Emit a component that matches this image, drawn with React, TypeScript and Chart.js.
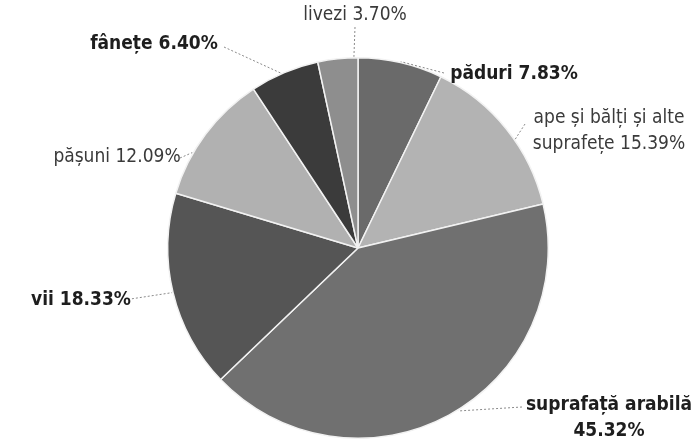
import React, { useEffect, useRef } from "react";
import { Chart, registerables } from "chart.js";

Chart.register(...registerables);

const categories = [
  "păduri",
  "ape și bălți și alte suprafețe",
  "suprafață arabilă",
  "vii",
  "pășuni",
  "fânețe",
  "livezi",
];
const shares = [7.83, 15.39, 45.32, 18.33, 12.09, 6.4, 3.7];
const sliceColors = ["#6a6a6a", "#b3b3b3", "#707070", "#555555", "#b1b1b1", "#3b3b3b", "#8e8e8e"];

// label layout: text centre, leader start, fraction along arc for leader end, words on first line, bold
const labelLayout = [
  { x: 514, y: 74, lx: 444, ly: 73, frac: 0.5, split: 0, bold: true },
  { x: 609, y: 118, lx: 525, ly: 124, frac: 0.58, split: 5, bold: false },
  { x: 609, y: 405, lx: 522, ly: 407, frac: 0.48, split: 2, bold: true },
  { x: 81, y: 300, lx: 124, ly: 300, frac: 0.5, split: 0, bold: true },
  { x: 117, y: 157, lx: 180, ly: 158, frac: 0.33, split: 0, bold: false },
  { x: 154, y: 44, lx: 224, ly: 47, frac: 0.45, split: 0, bold: true },
  { x: 355, y: 15, lx: 355, ly: 27, frac: 0.9, split: 0, bold: false },
];

const FONT = "'Liberation Sans Narrow', 'DejaVu Sans Condensed', sans-serif";

const labelPlugin = {
  id: "outLabels",
  afterDraw(chart: any) {
    const ctx = chart.ctx;
    const meta = chart.getDatasetMeta(0);
    meta.data.forEach((arc: any, i: number) => {
      const p = arc.getProps(["x", "y", "startAngle", "endAngle", "outerRadius"], true);
      const L = labelLayout[i];
      const a = p.startAngle + L.frac * (p.endAngle - p.startAngle);
      const ex = p.x + (p.outerRadius + 1) * Math.cos(a);
      const ey = p.y + (p.outerRadius + 1) * Math.sin(a);
      ctx.save();
      ctx.strokeStyle = "#8a8a8a";
      ctx.lineWidth = 1;
      ctx.setLineDash([2, 2]);
      ctx.beginPath();
      ctx.moveTo(L.lx, L.ly);
      ctx.lineTo(ex, ey);
      ctx.stroke();
      ctx.setLineDash([]);
      const text = `${categories[i]} ${shares[i].toFixed(2)}%`;
      const words = text.split(" ");
      const lines = L.split > 0 ? [words.slice(0, L.split).join(" "), words.slice(L.split).join(" ")] : [text];
      ctx.font = `${L.bold ? "bold " : ""}19px ${FONT}`;
      ctx.fillStyle = L.bold ? "#1e1e1e" : "#3a3a3a";
      ctx.textAlign = "center";
      ctx.textBaseline = "middle";
      lines.forEach((ln, k) => ctx.fillText(ln, L.x, L.y + k * 26));
      ctx.restore();
    });
  },
};

export default function App() {
  const ref = useRef<HTMLCanvasElement | null>(null);
  useEffect(() => {
    if (!ref.current) return;
    const chart = new Chart(ref.current, {
      type: "pie",
      data: {
        labels: categories,
        datasets: [
          {
            data: shares,
            backgroundColor: sliceColors,
            borderColor: "#f2f2f2",
            borderWidth: 1.5,
          },
        ],
      },
      options: {
        animation: false,
        responsive: false,
        layout: { padding: { top: 57, bottom: 2, left: 167, right: 146 } },
        plugins: { legend: { display: false }, tooltip: { enabled: false } },
      },
      plugins: [labelPlugin],
    });
    return () => chart.destroy();
  }, []);
  return (
    <div style={{ position: "fixed", left: 0, top: 0, width: 695, height: 441, background: "#fff" }}>
      <canvas ref={ref} width={695} height={441} style={{ width: 695, height: 441 }} />
    </div>
  );
}
